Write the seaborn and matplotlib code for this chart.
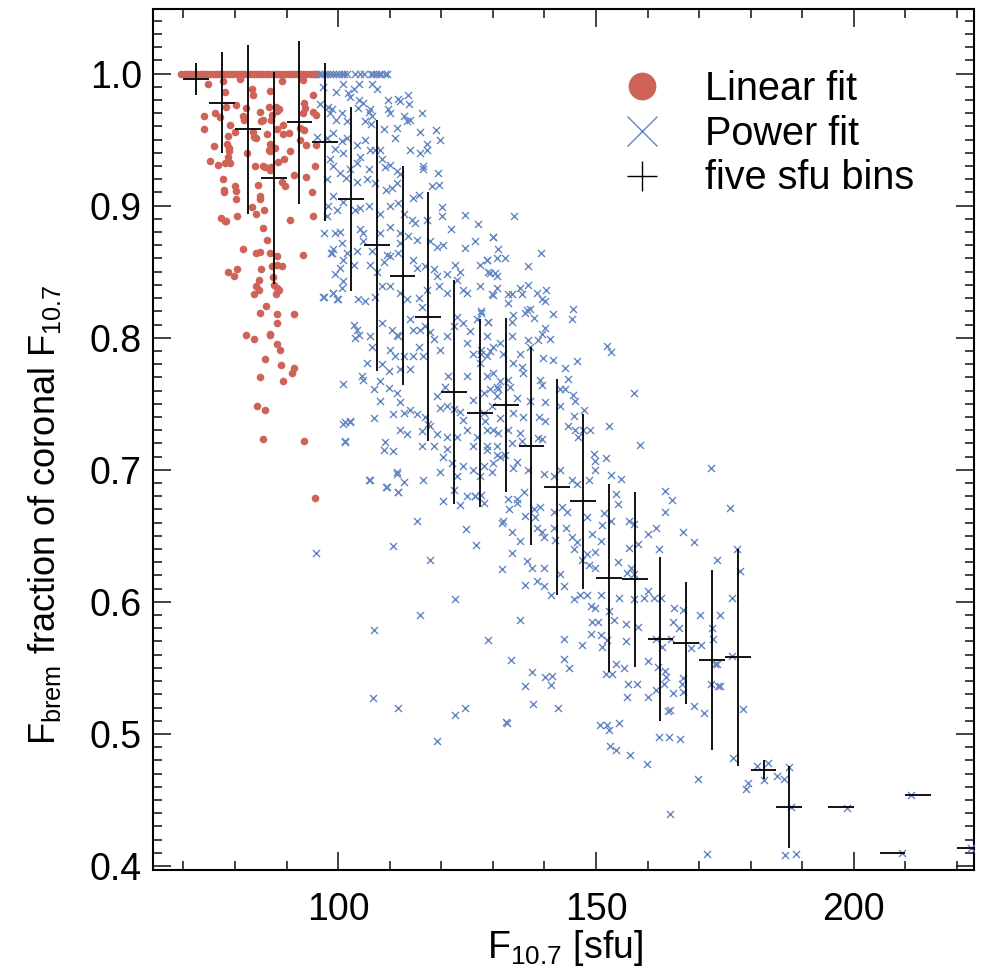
import numpy as np
import pandas as pd
import matplotlib
matplotlib.use("Agg")
import matplotlib.pyplot as plt
from matplotlib.lines import Line2D
from matplotlib.ticker import MultipleLocator, FormatStrFormatter
import seaborn as sns

# ---------------- data ----------------
band_value = 1.0
red_band_x = [69.6, 70.3, 70.8, 71.5, 72.1, 72.7, 73.4, 74.0, 74.6, 75.2, 75.9, 76.5, 77.0,
              77.7, 78.3, 78.9, 79.4, 80.1, 80.7, 81.3, 81.8, 82.5, 83.1, 83.6, 84.2, 84.9,
              85.5, 86.0, 86.6, 87.3, 87.9, 88.4, 89.0, 89.7, 90.3, 90.8, 91.4, 92.1, 92.7,
              93.2, 93.8, 94.5, 95.1, 95.6, 96.0]
red_points = [
    (74.7, 0.992), (77.6, 0.994), (80.9, 0.996), (89.1, 0.994), (93.1, 0.995), (78.1, 0.986),
    (83.3, 0.988), (83.5, 0.984), (86.8, 0.987), (95.2, 0.984), (73.9, 0.968), (76.2, 0.970),
    (77.1, 0.967), (78.3, 0.975), (80.2, 0.976), (82.2, 0.974), (81.5, 0.968), (81.8, 0.965),
    (84.8, 0.971), (85.0, 0.964), (85.4, 0.965), (86.5, 0.975), (87.1, 0.969), (87.0, 0.965),
    (88.0, 0.975), (88.2, 0.972), (88.6, 0.973), (89.4, 0.961), (93.3, 0.978), (93.6, 0.974),
    (93.2, 0.970), (95.2, 0.971), (95.7, 0.969), (74.0, 0.958), (79.1, 0.961), (80.0, 0.956),
    (78.7, 0.953), (83.5, 0.956), (83.6, 0.952), (84.1, 0.951), (86.3, 0.954), (86.8, 0.947),
    (88.1, 0.958), (89.3, 0.954), (90.4, 0.955), (92.6, 0.959), (93.3, 0.957), (92.6, 0.950),
    (93.8, 0.946), (95.7, 0.946), (76.0, 0.945), (78.4, 0.947), (78.9, 0.944), (78.9, 0.941),
    (78.6, 0.937), (79.1, 0.932), (76.8, 0.931), (78.0, 0.932), (75.1, 0.934), (82.4, 0.940),
    (83.9, 0.930), (85.4, 0.930), (86.8, 0.941), (86.5, 0.942), (87.7, 0.944), (88.4, 0.933),
    (89.6, 0.935), (90.6, 0.941), (86.8, 0.927), (87.0, 0.929), (85.9, 0.929), (95.5, 0.930),
    (77.6, 0.920), (77.8, 0.912), (77.9, 0.910), (80.0, 0.915), (80.2, 0.911), (80.2, 0.905),
    (84.5, 0.916), (84.9, 0.907), (84.8, 0.905), (89.1, 0.918), (89.7, 0.915), (91.5, 0.923),
    (93.8, 0.922), (94.9, 0.910), (77.3, 0.891), (78.1, 0.888), (78.3, 0.888), (80.4, 0.892),
    (83.3, 0.899), (84.1, 0.894), (85.7, 0.897), (90.7, 0.889), (95.1, 0.892), (85.4, 0.883),
    (86.2, 0.874), (81.5, 0.867), (84.1, 0.864), (84.8, 0.865), (86.7, 0.864), (88.1, 0.862),
    (93.1, 0.863), (78.6, 0.850), (80.4, 0.852), (79.8, 0.847), (85.0, 0.852), (87.1, 0.854),
    (88.1, 0.855), (89.1, 0.854), (84.6, 0.844), (87.3, 0.846), (84.1, 0.839), (84.6, 0.836),
    (83.6, 0.833), (87.6, 0.840), (88.2, 0.838), (88.6, 0.836), (88.0, 0.833), (86.0, 0.824),
    (84.9, 0.819), (88.1, 0.818), (91.5, 0.818), (88.1, 0.811), (82.2, 0.802), (83.6, 0.799),
    (86.7, 0.803), (86.8, 0.802), (88.1, 0.795), (88.8, 0.791), (85.9, 0.784), (88.9, 0.779),
    (91.5, 0.777), (91.0, 0.773), (84.8, 0.770), (89.4, 0.767), (84.2, 0.748), (85.9, 0.745),
    (85.5, 0.723), (93.4, 0.722), (95.5, 0.679)]

blue_band_x = [96.3, 96.9, 97.4, 97.9, 98.5, 99.0, 99.6, 100.1, 100.7, 101.2, 101.8, 103.3,
               104.2, 105.0, 106.3, 106.8, 107.3, 107.9, 108.4, 109.0, 109.5]
blue_points = [
    (97.0, 0.990), (99.6, 0.986), (101.0, 0.992), (104.1, 0.992), (103.0, 0.988), (106.5, 0.992),
    (107.6, 0.988), (102.0, 0.985), (102.3, 0.982), (104.1, 0.980), (104.8, 0.978), (103.8, 0.974),
    (106.2, 0.973), (105.9, 0.971), (109.6, 0.980), (109.6, 0.973), (110.1, 0.970), (111.7, 0.981),
    (112.0, 0.979), (113.6, 0.984), (113.8, 0.977), (116.2, 0.970), (112.7, 0.968), (113.3, 0.964),
    (114.0, 0.965), (96.5, 0.977), (98.1, 0.975), (98.8, 0.973), (98.5, 0.970), (100.7, 0.970),
    (99.6, 0.965), (101.7, 0.964), (105.2, 0.964), (106.5, 0.968), (106.3, 0.962), (108.8, 0.958),
    (111.5, 0.959), (111.1, 0.951), (115.8, 0.956), (119.0, 0.957), (119.8, 0.950), (117.2, 0.947),
    (117.3, 0.942), (115.8, 0.940), (114.0, 0.942), (99.1, 0.955), (97.8, 0.951), (96.0, 0.952),
    (100.7, 0.949), (101.7, 0.951), (103.6, 0.946), (105.2, 0.950), (106.2, 0.942), (107.2, 0.942),
    (108.1, 0.942), (99.4, 0.943), (101.0, 0.940), (104.3, 0.937), (98.5, 0.935), (99.1, 0.930),
    (100.4, 0.925), (102.3, 0.928), (103.6, 0.932), (105.9, 0.928), (108.5, 0.935), (109.1, 0.929),
    (110.1, 0.931), (111.4, 0.926), (112.0, 0.924), (111.4, 0.917), (110.4, 0.913), (116.4, 0.930),
    (116.5, 0.928), (118.2, 0.915), (119.3, 0.925), (119.5, 0.916), (115.6, 0.908), (114.6, 0.906),
    (97.8, 0.920), (101.6, 0.921), (103.6, 0.918), (105.6, 0.920), (107.2, 0.917), (109.3, 0.912),
    (99.1, 0.907), (101.0, 0.903), (98.1, 0.900), (97.8, 0.892), (99.8, 0.897), (103.3, 0.897),
    (104.3, 0.898), (105.9, 0.900), (108.1, 0.894), (110.1, 0.900), (111.7, 0.902), (112.7, 0.894),
    (120.1, 0.899), (120.1, 0.892), (114.3, 0.889), (114.9, 0.887), (117.2, 0.889), (124.6, 0.893),
    (127.2, 0.886), (121.8, 0.882), (97.2, 0.879), (99.4, 0.879), (100.3, 0.880), (104.3, 0.882),
    (104.9, 0.879), (108.1, 0.879), (110.1, 0.884), (112.0, 0.879), (113.6, 0.877), (115.3, 0.874),
    (100.7, 0.872), (104.9, 0.873), (112.0, 0.872), (117.8, 0.873), (119.1, 0.869), (120.4, 0.870),
    (126.6, 0.873), (130.0, 0.876), (124.6, 0.868), (99.1, 0.867), (98.6, 0.864), (101.7, 0.864),
    (103.6, 0.866), (106.5, 0.866), (109.4, 0.863),
    (98.8, 0.864), (101.0, 0.859), (103.0, 0.855), (100.4, 0.853), (99.4, 0.848), (100.9, 0.843),
    (97.3, 0.831), (99.1, 0.834), (99.9, 0.829), (100.7, 0.838), (103.9, 0.829), (105.2, 0.828),
    (106.2, 0.855), (107.5, 0.850), (108.8, 0.857), (110.1, 0.862), (111.7, 0.864), (114.6, 0.859),
    (115.3, 0.853), (116.9, 0.854), (118.5, 0.852), (119.1, 0.847), (121.1, 0.848), (122.7, 0.855),
    (123.6, 0.850), (123.0, 0.844), (127.5, 0.855), (128.8, 0.859), (129.5, 0.849), (130.8, 0.847),
    (107.2, 0.831), (108.5, 0.839), (110.1, 0.839), (112.0, 0.834), (113.3, 0.829), (115.6, 0.830),
    (117.2, 0.836), (119.5, 0.839), (121.1, 0.834), (124.3, 0.836), (124.9, 0.834), (127.5, 0.839),
    (129.8, 0.833), (103.0, 0.810), (103.6, 0.806), (104.1, 0.802), (103.3, 0.800), (106.2, 0.801),
    (106.5, 0.793), (108.5, 0.811), (110.4, 0.806), (111.4, 0.802), (111.7, 0.801), (114.0, 0.814),
    (114.6, 0.806), (115.9, 0.806), (116.9, 0.809), (116.2, 0.823), (117.8, 0.804), (118.5, 0.799),
    (119.8, 0.791), (121.1, 0.801), (122.4, 0.809), (123.0, 0.816), (124.3, 0.811), (125.6, 0.805),
    (126.9, 0.814), (127.8, 0.819), (129.1, 0.812), (124.9, 0.796), (126.2, 0.788), (127.8, 0.791),
    (128.8, 0.786), (130.1, 0.793), (110.1, 0.791), (111.1, 0.786), (112.7, 0.786), (114.0, 0.776),
    (114.6, 0.786), (115.6, 0.793), (116.5, 0.786), (105.6, 0.781), (108.5, 0.780), (109.8, 0.775),
    (112.0, 0.776), (104.6, 0.771), (104.9, 0.768), (108.1, 0.767), (106.9, 0.761), (109.8, 0.762),
    (108.1, 0.752), (111.4, 0.758), (112.0, 0.751), (112.7, 0.743), (114.0, 0.745), (115.3, 0.742),
    (116.9, 0.740), (117.5, 0.735), (119.1, 0.756), (119.8, 0.747), (121.1, 0.748), (122.4, 0.746),
    (123.6, 0.744), (124.3, 0.738), (126.2, 0.753), (128.2, 0.743), (129.8, 0.748), (130.8, 0.756),
    (130.8, 0.763), (128.8, 0.771), (127.5, 0.781), (124.9, 0.771), (121.4, 0.771), (120.7, 0.763),
    (101.0, 0.735), (102.3, 0.737), (106.9, 0.739), (110.7, 0.742), (112.0, 0.730), (113.3, 0.727),
    (116.2, 0.729), (117.8, 0.733), (119.1, 0.727), (121.1, 0.725), (123.0, 0.725), (124.9, 0.730),
    (126.9, 0.725), (128.8, 0.730), (131.1, 0.728), (101.4, 0.721), (109.1, 0.721), (108.8, 0.715),
    (110.7, 0.714), (116.2, 0.718), (118.5, 0.718), (121.1, 0.716), (126.2, 0.718), (128.8, 0.715),
    (130.8, 0.711), (120.4, 0.710), (122.0, 0.705), (124.3, 0.703), (126.2, 0.700), (128.2, 0.703),
    (130.1, 0.705), (129.8, 0.698), (127.5, 0.695), (123.0, 0.695), (119.8, 0.698), (116.5, 0.692),
    (111.4, 0.698), (112.7, 0.691), (106.2, 0.692), (109.4, 0.687), (111.7, 0.683), (122.4, 0.685),
    (124.9, 0.680), (126.6, 0.680), (127.8, 0.681),
    (134.2, 0.892), (130.1, 0.876), (131.1, 0.867), (128.8, 0.859), (130.8, 0.860), (132.4, 0.860),
    (139.3, 0.864), (136.9, 0.854), (129.1, 0.850), (130.4, 0.849), (130.8, 0.838), (130.1, 0.832),
    (135.3, 0.838), (136.8, 0.840), (133.0, 0.833), (133.7, 0.833), (135.6, 0.833), (138.6, 0.834),
    (140.4, 0.836), (139.5, 0.829), (140.1, 0.828), (133.0, 0.826), (136.6, 0.821), (137.2, 0.822),
    (137.9, 0.815), (136.2, 0.819), (141.7, 0.818), (145.5, 0.822), (145.3, 0.814), (127.8, 0.820),
    (129.1, 0.812), (134.0, 0.817), (133.7, 0.812), (140.1, 0.807), (139.5, 0.803), (141.1, 0.799),
    (138.8, 0.798), (128.8, 0.801), (131.3, 0.796), (133.7, 0.801), (136.9, 0.798), (137.2, 0.793),
    (152.1, 0.794), (153.0, 0.789), (127.8, 0.788), (129.5, 0.790), (132.0, 0.788), (135.3, 0.788),
    (139.8, 0.785), (141.7, 0.783), (146.4, 0.782), (144.0, 0.777), (144.6, 0.769), (135.6, 0.778),
    (134.0, 0.781), (130.1, 0.773), (131.4, 0.767), (133.0, 0.768), (135.9, 0.773), (139.2, 0.768),
    (139.5, 0.764), (143.0, 0.761), (144.0, 0.761), (145.6, 0.757), (145.9, 0.752), (140.1, 0.751),
    (137.2, 0.752), (134.6, 0.754), (128.2, 0.758), (129.5, 0.761), (131.1, 0.761), (133.3, 0.763),
    (157.4, 0.758), (147.6, 0.745), (145.8, 0.741), (143.0, 0.748), (139.0, 0.740), (140.1, 0.737),
    (135.9, 0.740), (134.0, 0.743), (131.4, 0.739), (128.5, 0.737), (130.1, 0.730), (133.0, 0.730),
    (135.3, 0.728), (138.8, 0.724), (139.5, 0.723), (144.5, 0.733), (145.9, 0.730), (147.4, 0.730),
    (148.8, 0.730), (152.6, 0.733), (146.6, 0.725), (158.5, 0.719), (135.6, 0.722), (133.7, 0.720),
    (130.8, 0.718), (128.8, 0.718),
    (134.0, 0.701), (134.7, 0.706), (132.4, 0.711), (131.4, 0.710), (136.9, 0.700), (139.9, 0.697),
    (141.8, 0.695), (143.1, 0.700), (145.4, 0.692), (146.4, 0.689), (148.6, 0.692), (149.6, 0.712),
    (149.9, 0.707), (151.9, 0.709), (149.9, 0.700), (152.9, 0.696), (154.8, 0.693), (133.0, 0.678),
    (134.7, 0.678), (136.0, 0.683), (137.9, 0.670), (139.2, 0.672), (131.7, 0.660), (133.7, 0.653),
    (135.3, 0.646), (136.3, 0.665), (138.2, 0.664), (138.6, 0.656), (139.5, 0.653), (141.8, 0.668),
    (143.4, 0.672), (144.4, 0.668), (141.8, 0.656), (144.1, 0.656), (142.1, 0.647), (139.9, 0.649),
    (145.4, 0.649), (146.4, 0.645), (148.3, 0.664), (149.3, 0.651), (150.9, 0.646), (133.7, 0.637),
    (136.6, 0.631), (137.6, 0.626), (139.9, 0.626), (138.6, 0.616), (139.9, 0.612), (136.3, 0.613),
    (131.7, 0.625), (141.2, 0.605), (143.8, 0.612), (143.1, 0.621), (145.7, 0.640), (147.3, 0.632),
    (148.3, 0.636), (149.9, 0.638), (148.6, 0.628), (149.9, 0.626), (151.2, 0.658), (151.6, 0.667),
    (153.8, 0.682), (152.9, 0.661), (154.2, 0.674), (156.4, 0.661), (157.4, 0.659), (156.4, 0.641),
    (158.1, 0.644), (156.8, 0.626), (157.4, 0.621), (154.2, 0.630), (156.1, 0.622), (160.0, 0.651),
    (161.6, 0.656), (162.3, 0.640), (163.3, 0.684), (164.7, 0.677), (163.4, 0.668), (166.8, 0.653),
    (169.1, 0.645), (148.3, 0.605), (145.7, 0.602), (147.0, 0.605), (149.0, 0.597), (150.9, 0.605),
    (149.9, 0.595), (149.3, 0.585), (150.3, 0.585), (149.0, 0.576), (150.9, 0.575), (152.5, 0.593),
    (153.5, 0.586), (154.5, 0.603), (155.8, 0.583), (158.1, 0.581), (157.4, 0.602), (159.4, 0.603),
    (161.3, 0.603), (162.6, 0.603), (160.0, 0.608), (165.2, 0.595), (166.8, 0.594), (166.2, 0.580),
    (170.1, 0.590), (174.0, 0.590), (164.9, 0.585), (161.6, 0.572), (162.9, 0.566), (164.6, 0.572),
    (160.0, 0.555), (162.0, 0.551), (143.8, 0.572), (147.3, 0.567), (143.8, 0.557), (144.7, 0.550),
    (137.6, 0.547), (140.2, 0.543), (141.5, 0.544), (151.2, 0.566), (152.2, 0.571), (155.8, 0.570),
    (153.8, 0.553), (155.5, 0.550), (151.9, 0.545), (153.2, 0.545), (163.6, 0.543), (163.3, 0.548),
    (166.8, 0.542), (175.9, 0.671), (173.5, 0.632), (176.3, 0.603), (172.5, 0.580), (172.7, 0.572),
    (173.0, 0.553), (177.9, 0.623), (177.4, 0.640), (170.3, 0.567), (168.4, 0.565), (173.5, 0.553),
    (176.3, 0.559), (172.4, 0.701),
    (136.3, 0.536), (137.8, 0.523), (142.6, 0.520), (141.2, 0.537), (132.7, 0.508), (150.8, 0.507),
    (152.1, 0.507), (152.5, 0.503), (154.5, 0.508), (152.7, 0.491), (153.8, 0.488), (156.6, 0.484),
    (159.9, 0.477), (156.1, 0.528), (156.3, 0.538), (157.9, 0.538), (160.0, 0.528), (161.6, 0.533),
    (163.1, 0.538), (165.0, 0.531), (166.6, 0.538), (166.8, 0.532), (169.0, 0.521), (170.9, 0.516),
    (163.9, 0.517), (164.4, 0.518), (162.2, 0.498), (164.2, 0.498), (166.3, 0.496), (169.8, 0.466),
    (164.4, 0.439), (171.6, 0.409), (172.4, 0.538), (173.7, 0.536), (174.0, 0.536), (178.5, 0.519),
    (176.6, 0.482), (181.3, 0.476), (183.4, 0.478), (182.6, 0.465), (179.4, 0.463), (179.1, 0.458),
    (185.2, 0.468), (186.5, 0.466), (187.4, 0.475), (187.8, 0.445), (186.7, 0.408), (188.8, 0.409),
    (198.7, 0.444), (209.3, 0.410), (211.1, 0.454), (222.7, 0.414),
    (97.0, 0.831), (99.0, 0.834), (99.7, 0.829), (101.0, 0.765), (102.3, 0.736), (101.4, 0.736),
    (101.4, 0.722), (106.0, 0.692), (109.3, 0.687), (111.6, 0.683), (111.4, 0.697), (115.3, 0.661),
    (120.3, 0.676), (123.6, 0.673), (126.6, 0.680), (128.3, 0.675), (132.0, 0.661), (133.1, 0.670),
    (134.6, 0.675), (124.8, 0.655),
    (95.7, 0.637), (107.0, 0.579), (106.8, 0.527), (111.6, 0.520), (119.2, 0.495), (124.6, 0.520),
    (132.6, 0.509), (122.7, 0.514), (115.9, 0.590), (117.8, 0.632), (122.7, 0.602), (126.7, 0.643),
    (110.7, 0.642), (129.1, 0.571), (133.5, 0.556), (135.3, 0.586)]

# five sfu bins: centre, mean fraction, spread
bin_x = [72.5, 77.5, 82.5, 87.5, 92.5, 97.5, 102.5, 107.5, 112.5, 117.5, 122.5, 127.5, 132.5,
         137.5, 142.5, 147.5, 152.5, 157.5, 162.5, 167.5, 172.5, 177.5, 182.5, 187.5, 197.5,
         207.5, 212.5, 222.5]
bin_y = [0.996, 0.978, 0.958, 0.921, 0.963, 0.948, 0.905, 0.870, 0.847, 0.816, 0.759, 0.743,
         0.749, 0.718, 0.687, 0.676, 0.618, 0.617, 0.572, 0.569, 0.556, 0.558, 0.473, 0.445,
         0.445, 0.410, 0.454, 0.414]
bin_err = [0.012, 0.038, 0.064, 0.080, 0.062, 0.060, 0.070, 0.095, 0.083, 0.094, 0.085, 0.071,
           0.066, 0.075, 0.082, 0.066, 0.071, 0.066, 0.062, 0.046, 0.068, 0.082, 0.0075, 0.031,
           0.0, 0.0, 0.0, 0.0]
bin_halfwidth = 2.5

x_ticks = [100, 150, 200]
y_ticks = [0.4, 0.5, 0.6, 0.7, 0.8, 0.9, 1.0]
legend_labels = ["Linear fit", "Power fit", "five sfu bins"]

RED = "#CF6358"
BLUE = "#6487C4"

# ---------------- style ----------------
sns.set_theme(style="ticks")
plt.rcParams["font.family"] = ["Liberation Sans", "DejaVu Sans"]
plt.rcParams["mathtext.fontset"] = "custom"
plt.rcParams["mathtext.rm"] = "Liberation Sans"
plt.rcParams["mathtext.it"] = "Liberation Sans:italic"
plt.rcParams["mathtext.bf"] = "Liberation Sans:bold"
plt.rcParams["text.color"] = "black"
plt.rcParams["xtick.labelcolor"] = "black"
plt.rcParams["ytick.labelcolor"] = "black"

red_df = pd.DataFrame({
    "F107": red_band_x + [p[0] for p in red_points],
    "frac": [band_value] * len(red_band_x) + [p[1] for p in red_points],
})
blue_df = pd.DataFrame({
    "F107": blue_band_x + [p[0] for p in blue_points],
    "frac": [band_value] * len(blue_band_x) + [p[1] for p in blue_points],
})

fig = plt.figure(figsize=(9.82, 9.73), dpi=100)
fig.patch.set_facecolor("white")
ax = fig.add_axes([0.1558, 0.1059, 0.836, 0.885])

sns.scatterplot(data=red_df, x="F107", y="frac", ax=ax, color=RED, marker="o", s=30,
                linewidth=0, legend=False, zorder=2)
sns.scatterplot(data=blue_df, x="F107", y="frac", ax=ax, color=BLUE, marker="x", s=26,
                linewidth=1.0, legend=False, zorder=3)
ax.errorbar(bin_x, bin_y, xerr=bin_halfwidth, yerr=bin_err, fmt="none", ecolor="black",
            elinewidth=1.3, capsize=0, zorder=4)

ax.set_xlim(64.1, 223.3)
ax.set_ylim(0.397, 1.049)
ax.set_xticks(x_ticks)
ax.set_yticks(y_ticks)
ax.xaxis.set_minor_locator(MultipleLocator(10))
ax.yaxis.set_minor_locator(MultipleLocator(0.01))
ax.yaxis.set_major_formatter(FormatStrFormatter("%.1f"))
ax.set_xlabel("")
ax.set_ylabel("")

ax.tick_params(which="both", direction="in", top=True, right=True, width=1.2, color="#222222",
               labelcolor="black")
ax.tick_params(which="major", length=13, labelsize=27)
ax.tick_params(which="minor", length=6.5)
ax.tick_params(axis="x", which="major", pad=16)
ax.tick_params(axis="y", which="major", pad=8)
for sp in ax.spines.values():
    sp.set_linewidth(1.5)
    sp.set_color("black")

fig.text(45 / 982, 1 - 745 / 973,
         r"F$_\mathregular{brem}$ fraction of coronal F$_\mathregular{10.7}$",
         rotation=90, ha="center", va="bottom", fontsize=26, color="black")
fig.text(565 / 982, 1 - 948 / 973, r"F$_\mathregular{10.7}$ [sfu]",
         ha="center", va="center", fontsize=27, color="black")

handles = [
    Line2D([], [], marker="o", ls="none", color=RED, markersize=20, markeredgewidth=0),
    Line2D([], [], marker="x", ls="none", color=BLUE, markersize=21, markeredgewidth=1.0),
    Line2D([], [], marker="+", ls="none", color="black", markersize=21, markeredgewidth=1.0),
]
leg = fig.legend(handles, legend_labels, loc="upper left",
                 bbox_to_anchor=(602 / 982, 1 - 70 / 973),
                 frameon=False, fontsize=28.5, handlelength=2.0, handletextpad=0.6,
                 labelspacing=0.17, borderpad=0, borderaxespad=0)
for t in leg.get_texts():
    t.set_color("black")

fig.savefig("out.png", dpi=100, facecolor="white")
